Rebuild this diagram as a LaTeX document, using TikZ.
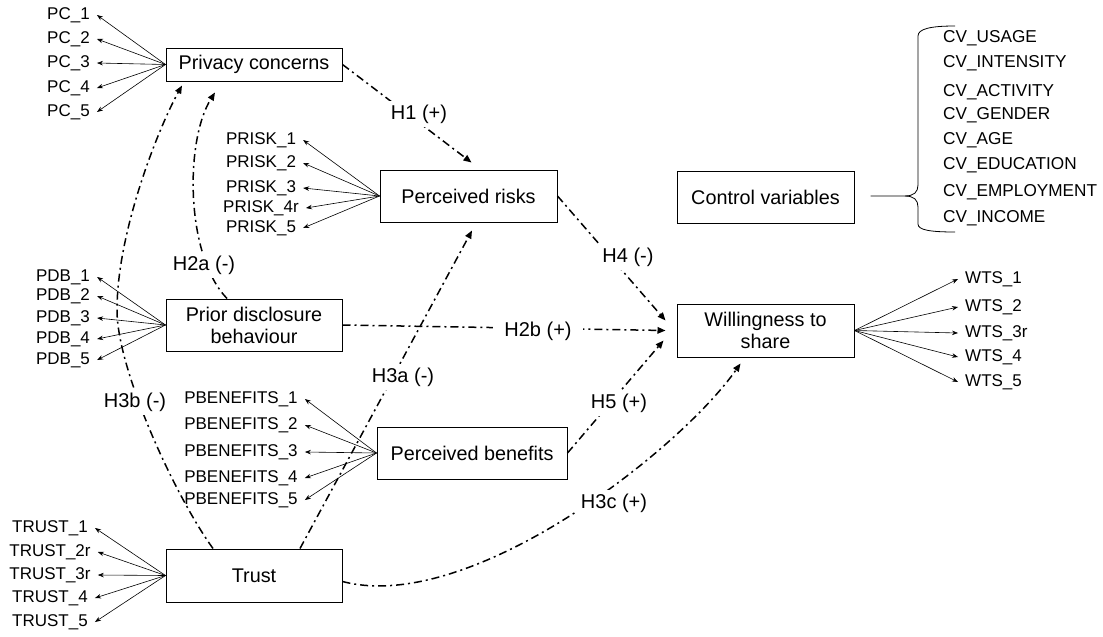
\documentclass[tikz,border=0pt]{standalone}
\usepackage{fontspec}
\setmainfont{Liberation Sans}
\usetikzlibrary{arrows.meta,calc}
\tikzset{
  construct/.style={draw, line width=1pt, align=center, font=\fontsize{19.8}{22}\selectfont, inner sep=0pt},
  ind/.style={font=\fontsize{17}{19}\selectfont, inner xsep=7pt, inner ysep=1pt},
  cvlab/.style={font=\fontsize{17.2}{19}\selectfont, anchor=west, inner sep=0pt},
  load/.style={line width=0.6pt, -{Stealth[length=6pt,width=4.5pt]}},
  hyp/.style={line width=1.5pt, dash pattern=on 8pt off 4pt on 2pt off 4pt, -{Triangle[length=8pt,width=6.5pt]}},
  hlab/.style={fill=white, font=\fontsize{20}{22}\selectfont, inner sep=4pt},
  bracestyle/.style={line width=0.8pt}
}
\begin{document}
\begin{tikzpicture}[x=1pt,y=-1pt]
\useasboundingbox (0,0) rectangle (1103,637);
% constructs
\node[construct, minimum width=176pt, minimum height=33pt] (pc) at (254,64.5) {Privacy concerns};
\node[construct, minimum width=177pt, minimum height=52pt] (pr) at (468.5,196) {Perceived risks};
\node[construct, minimum width=176pt, minimum height=52pt] (pdb) at (254,325) {Prior disclosure\\behaviour};
\node[construct, minimum width=190pt, minimum height=52pt] (pb) at (472,453) {Perceived benefits};
\node[construct, minimum width=176pt, minimum height=53pt] (tr) at (254,575.5) {Trust};
\node[construct, minimum width=177pt, minimum height=53pt] (wts) at (765.5,330.5) {Willingness to\\share};
\node[construct, minimum width=177pt, minimum height=52pt] (cv) at (765.5,197) {Control variables};
% indicators
\foreach \n/\t/\y in {1/1/15,2/2/39,3/3/63,4/4/88,5/5/112}{
  \node[ind] (pc\n) at (68.5,\y) {PC\_\t};
  \draw[load] (pc.west) -- (pc\n.east);
}
\foreach \n/\t/\y in {1/1/140,2/2/163,3/3/188,4/4r/208,5/5/228}{
  \node[ind] (prisk\n) at (261,\y) {PRISK\_\t};
  \draw[load] (pr.west) -- (prisk\n.east);
}
\foreach \n/\t/\y in {1/1/277,2/2/296,3/3/318,4/4/339,5/5/360}{
  \node[ind] (pdbi\n) at (63,\y) {PDB\_\t};
  \draw[load] (pdb.west) -- (pdbi\n.east);
}
\foreach \n/\t/\y in {1/1/399,2/2/425,3/3/452,4/4/478,5/5/500}{
  \node[ind] (pben\n) at (241,\y) {PBENEFITS\_\t};
  \draw[load] (pb.west) -- (pben\n.east);
}
\foreach \n/\t/\y in {1/1/528,2/2r/552,3/3r/575,4/4/598,5/5/622}{
  \node[ind] (trust\n) at (50,\y) {TRUST\_\t};
  \draw[load] (tr.west) -- (trust\n.east);
}
\foreach \n/\t/\y in {1/1/279,2/2/307,3/3r/333,4/4/357,5/5/382}{
  \node[ind, anchor=west] (wtsi\n) at (958,\y) {WTS\_\t};
  \draw[load] (wts.east) -- (wtsi\n.west);
}
% control variables
\foreach \t/\y in {USAGE/38,INTENSITY/63,ACTIVITY/92,GENDER/115,AGE/140,EDUCATION/165,EMPLOYMENT/192,INCOME/218}{
  \node[cvlab] (cv\t) at (943,\y) {CV\_\t};
}
\coordinate (bt) at ($(cv.east)+(16,-1)$);
\draw[bracestyle] (bt) -- (905,196) .. controls (914,196) and (918,192) .. (918,185) -- (918,36) .. controls (918,29) and (930,26) .. (955,26);
\draw[bracestyle] (905,196) .. controls (914,196) and (918,200) .. (918,207) -- (918,224) .. controls (918,230) and (930,232) .. (955,232);
% hypotheses
\draw[hyp] (pc.east) -- ($(pr.north)+(3,-7)$);
\draw[hyp] (pr.east) -- ($(wts.west)+(-11,-10)$);
\draw[hyp] (pdb.east) -- ($(wts.west)+(-11,0)$);
\draw[hyp] (pb.east) -- ($(wts.west)+(-13,10)$);
\draw[hyp] ($(tr.east)+(0,6)$) .. controls (470,615) and (680,450) .. ($(wts.south)+(-25,6)$);
\draw[hyp] ($(tr.north)+(46,0)$) -- ($(pr.south)+(3.5,8)$);
\draw[hyp] ($(tr.north)+(-41,0)$) .. controls (175,496) and (117,370) .. (117,310) .. controls (117,230) and (160,125) .. ($(pc.south)+(-72,4)$);
\draw[hyp] ($(pdb.north)+(-27,0)$) .. controls (185,255) and (185,140) .. ($(pc.south)+(-39,11)$);
% hypothesis labels
\node[hlab] (h1) at (419,114) {H1 (+)};
\node[hlab] (h4) at (628,257) {H4 (-)};
\node[hlab, inner xsep=11pt] (h2b) at (538,331) {H2b (+)};
\node[hlab] (h5) at (619,403) {H5 (+)};
\node[hlab] (h3c) at (614,503) {H3c (+)};
\node[hlab] (h3a) at (403,377) {H3a (-)};
\node[hlab] (h3b) at (135,402) {H3b (-)};
\node[hlab] (h2a) at (204,265) {H2a (-)};
\end{tikzpicture}
\end{document}
